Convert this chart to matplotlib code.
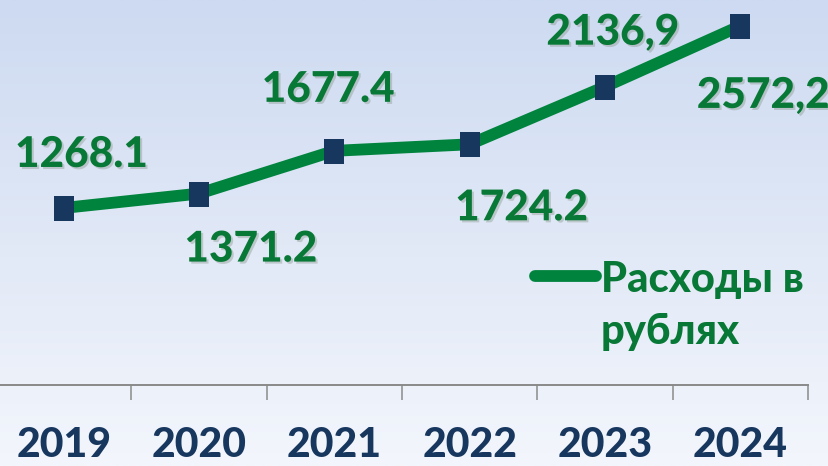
import matplotlib
matplotlib.use('Agg')
import matplotlib.pyplot as plt
import matplotlib.patheffects as pe
import numpy as np

years = ['2019', '2020', '2021', '2022', '2023', '2024']
values = [1268.1, 1371.2, 1677.4, 1724.2, 2136.9, 2572.2]
labels = ['1268.1', '1371.2', '1677.4', '1724.2', '2136,9', '2572,2']
# label offsets in pixels (dx to centre, dy to baseline)
label_off = [(18, 41), (52, -68), (-6, 49), (52, -76), (8, 42), (23, -82)]
series_name = 'Расходы в\nрублях'

green = '#00843D'
text_green = '#087836'
navy = '#17375E'

plt.rcParams['font.family'] = ['Lato', 'Open Sans', 'DejaVu Sans']

fig = plt.figure(figsize=(8.29, 4.66), dpi=100)

# background gradient
bg = fig.add_axes([0, 0, 1, 1], zorder=-5)
top = np.array([205, 218, 241]) / 255
bot = np.array([243, 246, 252]) / 255
t = np.linspace(0, 1, 256)[:, None]
grad = top[None, :] * (1 - t) + bot[None, :] * t
bg.imshow(grad[:, None, :], aspect='auto', extent=[0, 1, 0, 1])
bg.axis('off')

ax = fig.add_axes([-4 / 829, 81 / 466, 812 / 829, 385 / 466])
ax.patch.set_alpha(0)
x = np.arange(len(years))
ax.plot(x, values, color=green, lw=8.5, solid_capstyle='round',
        marker=[(-0.4, -0.5), (0.4, -0.5), (0.4, 0.5), (-0.4, 0.5), (-0.4, -0.5)],
        ms=18, mfc=navy, mec=navy, mew=0, label=series_name, zorder=3)

shadow = [pe.withSimplePatchShadow(offset=(1.5, -1.5), shadow_rgbFace='#7a8a7a', alpha=0.35)]
for xi, v, lab, (dx, dy) in zip(x, values, labels, label_off):
    ax.annotate(lab, (xi, v), xytext=(dx, dy), textcoords='offset pixels',
                ha='center', va='baseline', fontsize=30.5, fontweight='black',
                color=text_green, path_effects=shadow, zorder=4)

ax.set_xlim(-0.5, 5.5)
ax.set_ylim(0, 385 / 0.1396)
for s in ['top', 'right', 'left']:
    ax.spines[s].set_visible(False)
ax.spines['bottom'].set_color('#8a8a8a')
ax.spines['bottom'].set_linewidth(1.4)
ax.set_yticks([])
ax.set_xticks(x)
ax.set_xticklabels(years, fontsize=29.5, fontweight='black', color=navy)
ax.tick_params(axis='x', which='major', length=0, pad=29.5)
ax.set_xticks(np.arange(-0.5, 6, 1), minor=True)
ax.tick_params(axis='x', which='minor', length=11, width=1.1, color='#8a8a8a', direction='out')

leg = ax.legend(loc='upper left', bbox_to_anchor=(0.664, 0.321), frameon=False,
                prop={'size': 30, 'weight': 'black'}, handlelength=1.45,
                handletextpad=0.12, borderpad=0, borderaxespad=0, handleheight=0.7)
for txt in leg.get_texts():
    txt.set_color(text_green)
    txt.set_linespacing(1.45)
for hl in leg.get_lines():
    hl.set_marker('')
    hl.set_linewidth(8.5)
for col in leg._legend_handle_box.get_children():
    for hp in col.get_children():
        hp.align = 'top'

fig.savefig('out.png', dpi=100)
